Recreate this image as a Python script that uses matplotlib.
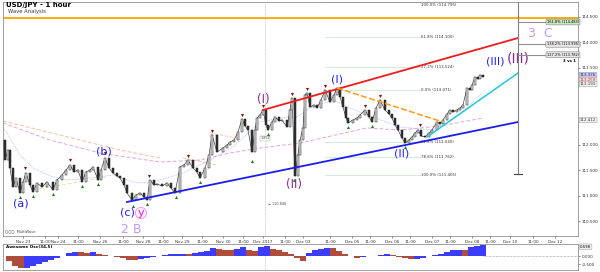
import numpy as np
import matplotlib
matplotlib.use("Agg")
from matplotlib import pyplot as plt
from matplotlib.patches import Rectangle

# chart position (bar slot) and hourly close prices
t = [3, 5, 8, 10, 13, 16, 20, 23, 26, 30, 33, 37, 42, 47, 53, 57, 62, 66, 70, 74,
     78, 82, 86, 90, 93, 98, 101, 105, 109, 113, 117, 120, 124, 127, 132, 136, 140, 144, 147, 150,
     154, 157, 162, 167, 171, 175, 180, 184, 188, 193, 197, 200, 205, 209, 212, 217, 223, 227, 230, 234,
     238, 242, 245, 248, 252, 255, 257, 260, 263, 266, 268, 272, 275, 279, 282, 287, 290, 292, 295, 298,
     300, 303, 305, 307, 310, 314, 317, 321, 325, 330, 334, 337, 340, 343, 346, 348, 353, 357, 360, 365,
     369, 372, 376, 380, 385, 389, 392, 395, 398, 402, 405, 409, 412, 415, 418, 421, 425, 429, 432, 437,
     440, 443, 447, 450, 453, 457, 460, 463, 467, 470, 472, 475, 478, 480, 483]
close = [112.088, 111.696, 111.892, 111.539, 111.167, 111.343, 111.049, 111.265, 111.441, 111.206,
         111.069, 111.245, 111.167, 111.265, 111.108, 111.304, 111.402, 111.500, 111.598, 111.461,
         111.500, 111.265, 111.461, 111.500, 111.559, 111.304, 111.500, 111.735, 111.539, 111.441,
         111.382, 111.343, 111.206, 111.049, 110.912, 111.010, 111.049, 110.971, 110.912, 111.304,
         111.206, 111.225, 111.186, 111.245, 111.147, 111.049, 111.559, 111.598, 111.696, 111.539,
         111.461, 111.343, 111.539, 111.794, 112.186, 111.853, 111.931, 111.990, 112.049, 112.088,
         112.245, 112.500, 112.363, 112.284, 111.853, 112.284, 112.520, 112.578, 112.676, 112.382,
         112.284, 112.441, 112.539, 112.461, 112.480, 112.343, 112.676, 112.912, 111.380, 111.794,
         112.088, 112.324, 112.971, 113.010, 112.735, 112.775, 112.716, 112.873, 113.069, 112.833,
         112.971, 113.108, 112.931, 112.735, 112.520, 112.422, 112.480, 112.520, 112.578, 112.676,
         112.539, 112.441, 112.716, 112.873, 112.676, 112.598, 112.520, 112.382, 112.284, 112.127,
         112.029, 112.088, 112.147, 112.225, 112.284, 112.167, 112.147, 112.225, 112.284, 112.441,
         112.402, 112.480, 112.598, 112.676, 112.637, 112.676, 112.716, 112.775, 113.108, 113.069,
         113.167, 113.324, 113.284, 113.363, 113.324]

# moving averages
ma_fast_t = [3, 7, 20, 33, 50, 67, 90, 113, 133, 150, 183, 210, 233, 260, 280, 297, 310, 333,
             350, 367, 400, 433, 455, 470, 483]
ma_fast = [112.324, 112.225, 111.794, 111.539, 111.382, 111.304, 111.343, 111.402, 111.265,
           111.245, 111.441, 111.696, 111.951, 112.441, 112.520, 112.539, 112.716, 112.873,
           112.716, 112.578, 112.343, 112.284, 112.520, 112.775, 113.029]
ma_slow_t = [3, 50, 100, 160, 200, 230, 260, 300, 340, 367, 400, 440, 483]
ma_slow = [112.422, 112.088, 111.833, 111.657, 111.696, 111.833, 111.931, 112.029, 112.206,
           112.324, 112.284, 112.363, 112.520]
ma_mid_t = [3, 60, 120, 160]
ma_mid = [112.461, 112.186, 111.892, 111.735]

# fractal markers
peak_t = [25, 70, 105, 149, 188, 212, 242, 263, 292, 307, 325, 365, 380, 420]
peak_p = [111.54, 111.70, 111.83, 111.39, 111.78, 112.27, 112.58, 112.76, 112.99, 113.09,
          113.15, 112.76, 112.95, 112.38]
trough_t = [20, 33, 53, 82, 98, 133, 147, 176, 200, 252, 268, 294, 348, 372, 405]
trough_p = [110.97, 110.99, 111.03, 111.19, 111.23, 110.80, 110.84, 110.97, 111.27, 111.68,
            112.21, 111.30, 112.35, 112.36, 111.95]

# fibonacci levels
fib_levels = [114.795, 114.100, 113.524, 113.071, 112.040, 111.762, 111.405]
fib_names = ['100.0%', '61.8%', '27.2%', '0.0%', '61.8%', '78.6%', '100.0%']
target_levels = [114.402, 113.965, 113.760]
target_names = ['161.8% (114.483)', '138.2% (113.995)', '127.2% (113.782)']
target_colors = ['#c8e8c0', '#e8e8e8', '#e8e8e8']

# awesome oscillator
osc_t = np.arange(3, 484, 6)
osc = [0.0, -0.3, -0.6, -0.75, -0.72, -0.65, -0.5, -0.38, -0.25, -0.12,
       0.0, 0.2, 0.25, 0.22, 0.2, 0.24, 0.15, 0.05, 0.0, -0.08,
       -0.15, -0.22, -0.28, -0.2, -0.1, -0.05, 0.0, 0.05, 0.1, 0.12,
       0.15, 0.12, 0.2, 0.25, 0.3, 0.5, 0.45, 0.38, 0.35, 0.45,
       0.55, 0.4, 0.3, 0.55, 0.6, 0.45, 0.38, 0.25, 0.15, -0.1,
       -0.3, 0.2, 0.35, 0.45, 0.5, 0.48, 0.3, 0.15, 0.0, -0.12,
       -0.08, 0.0, -0.02, 0.08, 0.12, 0.05, -0.05, -0.15, -0.2, -0.18,
       -0.1, -0.02, 0.05, 0.15, 0.28, 0.38, 0.4, 0.35, 0.55, 0.65, 0.7]

tick_pos = [23, 45, 58, 78, 100, 123, 143, 163, 182, 202, 223, 243, 263, 285, 303, 330,
            352, 370, 392, 410, 432, 450, 472, 490, 510, 533, 555]
tick_labels = ['Nov 23', '11:00', 'Nov 24', '11:00', 'Nov 26', '11:00', 'Nov 28', '11:00',
               'Nov 29', '11:00', 'Nov 30', '11:00', 'Dec 2017', '11:00', 'Dec 03', '11:00',
               'Dec 05', '11:00', 'Dec 06', '11:00', 'Dec 07', '11:00', 'Dec 08', '11:00',
               'Dec 10', '11:00', 'Dec 12']
price_ticks = [110.5, 111.0, 111.5, 112.0, 113.5, 114.0, 114.5]

W, H = 600, 272
fig = plt.figure(figsize=(6, 2.72), dpi=100)
ax = fig.add_axes([3 / W, 1 - 236 / H, 575 / W, 234 / H])
osc_ax = fig.add_axes([3 / W, 1 - 270 / H, 575 / W, 26 / H])

ax.set_xlim(3, 578)
ax.set_ylim(110.206, 114.794)
osc_ax.set_xlim(3, 578)
osc_ax.set_ylim(-0.875, 0.75)

# moving averages and helper lines
ax.plot(ma_fast_t, ma_fast, color='#a8bcff', lw=0.6, ls=(0, (1, 1)), zorder=1)
ax.plot(ma_slow_t, ma_slow, color='#e0a8dc', lw=0.7, ls=(0, (4, 2)), zorder=1)
ax.plot(ma_mid_t, ma_mid, color='#f4c0a0', lw=0.7, ls=(0, (4, 2)), zorder=1)
ax.plot([33, 107], [111.108, 111.363], color='#e6e6a8', lw=0.7, ls=(0, (4, 2)), zorder=1)
ax.plot([183, 217], [111.735, 111.598], color='#f4c0a0', lw=0.6, ls=(0, (4, 2)), zorder=1)
ax.plot([210, 237], [112.225, 112.127], color='#f4c0a0', lw=0.6, ls=(0, (4, 2)), zorder=1)

# fib levels
for lv, nm in zip(fib_levels, fib_names):
    y = min(lv, 114.73)
    ax.plot([325, 420], [lv, lv], color='#cfe8cf', lw=0.6, zorder=1)
    ax.text(421, y, '%s (%.3f)' % (nm, lv), fontsize=2.8, color='#333333', va='center')

ax.axhline(114.483, color='#ffa500', lw=1.3, zorder=2)
ax.axvline(265, color='#c0c0c0', lw=0.6, ls=(0, (1, 1)), zorder=1)
osc_ax.axvline(265, color='#c0c0c0', lw=0.6, ls=(0, (1, 1)), zorder=1)

# candles
ax.plot(t, close, color='#404040', lw=0.5, zorder=2)
for i in range(1, len(t)):
    o, c = close[i - 1], close[i]
    up = c >= o
    ax.add_patch(Rectangle((t[i] - 0.9, min(o, c)), 1.8, max(abs(c - o), 0.008),
                           facecolor='#dcdcdc' if up else '#303030',
                           edgecolor='#202020', lw=0.35, zorder=3))

# trend lines
ax.plot([263, 518], [112.676, 114.088], color='#ee1c1c', lw=1.3, zorder=4)
ax.plot([127, 518], [110.873, 112.441], color='#1c1cee', lw=1.3, zorder=4)
ax.plot([427, 518], [112.147, 113.402], color='#20c8d8', lw=1.1, zorder=4)
ax.plot([337, 443], [113.108, 112.441], color='#ff9a20', lw=1.1, ls=(0, (4, 1.5)), zorder=4)

# fractal markers
ax.scatter(peak_t, peak_p, marker='v', s=5, color='#7a1010', zorder=5, linewidths=0)
ax.scatter(trough_t, trough_p, marker='^', s=5, color='#1f7a1f', zorder=5, linewidths=0)

# target projection
ax.plot([518, 518], [114.79, 111.422], color='#808080', lw=0.8, zorder=4)
ax.plot([514, 522], [111.422, 111.422], color='#404040', lw=0.8, zorder=4)
for lv, nm, fc in zip(target_levels, target_names, target_colors):
    ax.plot([518, 548], [lv, lv], color='#909090', lw=0.8, zorder=4)
    ax.text(563, lv, nm, fontsize=2.6, ha='center', va='center', zorder=6,
            bbox=dict(boxstyle='round,pad=0.25', fc=fc, ec='#808080', lw=0.4))
ax.text(576, 113.64, '3 vs 1', fontsize=2.8, weight='bold', ha='right', va='center')

# wave labels
blue, purple, lav = '#2222ee', '#8a2a8a', '#c49af0'
ax.text(21, 110.853, '(a)', color=blue, fontsize=8, ha='center', va='center')
ax.text(104, 111.853, '(b)', color=blue, fontsize=8, ha='center', va='center')
ax.text(127, 110.657, '(c)', color=blue, fontsize=8, ha='center', va='center')
ax.text(141, 110.657, 'y', color='#ff00ff', fontsize=8, ha='center', va='center',
        bbox=dict(boxstyle='circle,pad=0.05', fc='none', ec='#ff80ff', lw=0.6))
ax.text(131, 110.343, '2 B', color=lav, fontsize=9, ha='center', va='center')
ax.text(263, 112.873, '(I)', color=purple, fontsize=8.5, ha='center', va='center')
ax.text(294, 111.206, '(II)', color=purple, fontsize=8.5, ha='center', va='center')
ax.text(337, 113.265, '(I)', color=blue, fontsize=8, ha='center', va='center')
ax.text(402, 111.814, '(II)', color=blue, fontsize=8, ha='center', va='center')
ax.text(495, 113.618, '(III)', color=blue, fontsize=8, ha='center', va='center')
ax.text(518, 113.696, '(III)', color=purple, fontsize=10, ha='center', va='center')
ax.text(540, 114.186, '3  C', color=lav, fontsize=9, ha='center', va='center')

# small chart notes
ax.text(268, 110.84, '\u22a5 110.840', fontsize=2.4, color='#444444', va='center')
ax.text(265, 112.12, '1.852', fontsize=2.4, color='#444444', ha='center', va='center',
        bbox=dict(boxstyle='square,pad=0.2', fc='white', ec='#a0a0a0', lw=0.3))
ax.text(5, 110.30, '\u25cb\u25cb\u25cb  MultiWave', fontsize=2.6, color='#444444', va='center')

# axes styling
ax.set_xticks(tick_pos)
ax.set_xticklabels(tick_labels)
ax.tick_params(axis='x', labelsize=3, length=1.5, width=0.4, pad=1.5, colors='#333333')
ax.yaxis.tick_right()
ax.set_yticks(price_ticks)
ax.set_yticklabels(['%.3f' % p for p in price_ticks])
ax.tick_params(axis='y', labelsize=3, length=1.5, width=0.4, pad=1, colors='#333333')
for s in ax.spines.values():
    s.set_color('#909090')
    s.set_linewidth(0.6)

right_boxes = [(113.363, '113.376', '#c8c8f0', '#202060'),
               (113.265, '113.259', '#f8e0e0', '#c03030'),
               (113.186, '113.193', '#f0f0f0', '#333333'),
               (112.480, '112.412', '#f0f0f0', '#333333')]
for lv, txt, fc, tc in right_boxes:
    ax.text(580, lv, txt, fontsize=2.8, color=tc, va='center', clip_on=False,
            bbox=dict(boxstyle='round,pad=0.2', fc=fc, ec='#909090', lw=0.3))

# oscillator
cols = ['#3c3cff'] + ['#3c3cff' if osc[i] >= osc[i - 1] else '#b04c3c' for i in range(1, len(osc))]
osc_ax.bar(osc_t, osc, width=5.2, color=cols, linewidth=0)
osc_ax.plot([483, 578], [0, 0], color='#909090', lw=0.5, ls=(0, (1, 1)))
osc_ax.set_xticks([])
osc_ax.yaxis.tick_right()
osc_ax.set_yticks([0.0, -0.5])
osc_ax.set_yticklabels(['0.000', '-0.500'])
osc_ax.tick_params(axis='y', labelsize=3, length=1.5, width=0.4, pad=1, colors='#333333')
osc_ax.text(580, 0.58, '0.598', fontsize=2.8, va='center', clip_on=False,
            bbox=dict(boxstyle='round,pad=0.2', fc='#f0f0f0', ec='#909090', lw=0.3))
osc_ax.text(6, 0.58, 'Awesome Osc(34,5)', fontsize=3, weight='bold', va='center')
for s in osc_ax.spines.values():
    s.set_color('#909090')
    s.set_linewidth(0.6)

fig.text(6 / W, 1 - 5 / H, 'USD/JPY - 1 hour', fontsize=5, weight='bold', va='center')
fig.text(8 / W, 1 - 12 / H, 'Wave Analysis', fontsize=3.8, color='#333333', va='center')

fig.savefig('out.png', dpi=100)
